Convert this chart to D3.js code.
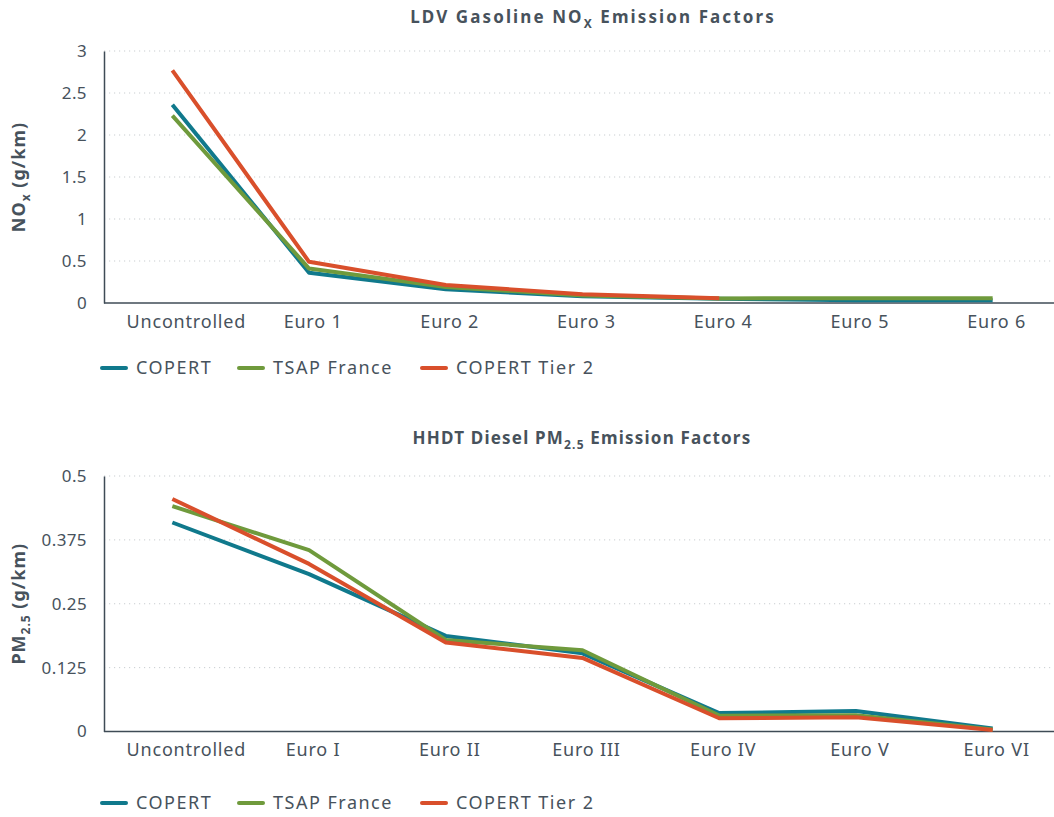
<!DOCTYPE html>
<html><head><meta charset="utf-8">
<script src="https://cdn.jsdelivr.net/npm/d3@7"></script>
<style>
html,body{margin:0;padding:0;background:#fff;}
svg{display:block;font-family:"Noto Sans",sans-serif;}
</style></head>
<body>
<svg id="chart" width="1054" height="817"></svg>
<script>
// ---- Data ----
const seriesNames = ["COPERT", "TSAP France", "COPERT Tier 2"];
const seriesColors = ["#10798c", "#6f9a3c", "#d94f2b"];

const noxCategories = ["Uncontrolled", "Euro 1", "Euro 2", "Euro 3", "Euro 4", "Euro 5", "Euro 6"];
const noxCopert = [2.36, 0.36, 0.165, 0.08, 0.05, 0.032, 0.032];
const noxTsap = [2.23, 0.41, 0.19, 0.09, 0.055, 0.056, 0.056];
const noxTier2 = [2.77, 0.49, 0.215, 0.105, 0.058, null, null];
const noxTicks = [0, 0.5, 1, 1.5, 2, 2.5, 3];
const noxTickLabels = ["0", "0.5", "1", "1.5", "2", "2.5", "3"];

const pmCategories = ["Uncontrolled", "Euro I", "Euro II", "Euro III", "Euro IV", "Euro V", "Euro VI"];
const pmCopert = [0.409, 0.308, 0.187, 0.153, 0.036, 0.040, 0.006];
const pmTsap = [0.441, 0.355, 0.179, 0.159, 0.031, 0.032, 0.004];
const pmTier2 = [0.455, 0.328, 0.174, 0.144, 0.026, 0.028, 0.003];
const pmTicks = [0, 0.125, 0.25, 0.375, 0.5];
const pmTickLabels = ["0", "0.125", "0.25", "0.375", "0.5"];

const svg = d3.select("#chart");
const textColor = "#47525c";
const axisColor = "#3f4b56";

function drawChart(cfg) {
  const g = svg.append("g");
  const x = d3.scaleBand().domain(cfg.categories).range([104, 1061]).padding(0);
  const y = d3.scaleLinear().domain([0, cfg.max]).range([cfg.bottom, cfg.top]);

  // gridlines
  g.append("g").selectAll("line").data(cfg.ticks.filter(t => t > 0)).join("line")
    .attr("x1", 104).attr("x2", 1054)
    .attr("y1", d => y(d)).attr("y2", d => y(d))
    .attr("stroke", "#c9cdd0").attr("stroke-width", 1).attr("stroke-dasharray", "1.2,3.8");

  // y axis
  const yAxis = d3.axisLeft(y).tickValues(cfg.ticks)
    .tickFormat((d, i) => cfg.tickLabels[i]).tickSize(0).tickPadding(17);
  const ya = g.append("g").attr("transform", "translate(104,0)").call(yAxis);
  ya.select(".domain").attr("stroke", axisColor).attr("stroke-width", 1.5);
  ya.selectAll("text").attr("fill", textColor).attr("font-size", 17)
    .attr("letter-spacing", 0.4).attr("font-family", "Noto Sans");

  // x axis
  const xAxis = d3.axisBottom(x).tickSize(0).tickPadding(12);
  const xa = g.append("g").attr("transform", `translate(0,${cfg.bottom})`).call(xAxis);
  xa.select(".domain").attr("stroke", axisColor).attr("stroke-width", 1.5)
    .attr("d", `M104,0H1054`);
  xa.selectAll("text").attr("fill", textColor).attr("font-size", 18)
    .attr("letter-spacing", 0.8).attr("font-family", "Noto Sans")
    .attr("dx", (d, i) => i === 0 ? 14 : 4);

  // lines
  const line = d3.line()
    .defined(d => d.v !== null)
    .x(d => x(d.c) + x.bandwidth() / 2)
    .y(d => y(d.v));
  cfg.series.forEach((vals, si) => {
    const data = cfg.categories.map((c, i) => ({c, v: vals[i]}));
    g.append("path").datum(data)
      .attr("fill", "none").attr("stroke", seriesColors[si])
      .attr("stroke-width", 4).attr("stroke-linejoin", "round")
      .attr("d", line);
  });

  // title
  const t = g.append("text").attr("x", cfg.titleX).attr("y", cfg.titleY)
    .attr("text-anchor", "middle").attr("font-weight", "bold")
    .attr("font-size", 17).attr("letter-spacing", cfg.titleSpacing).attr("fill", textColor);
  t.append("tspan").text(cfg.title[0]);
  t.append("tspan").text(cfg.title[1]).attr("font-size", 12).attr("dy", 5);
  t.append("tspan").text(cfg.title[2]).attr("dy", -5);

  // y label
  const yl = g.append("text")
    .attr("transform", `translate(25,${(cfg.top + cfg.bottom) / 2}) rotate(-90)`)
    .attr("text-anchor", "middle").attr("font-weight", "bold")
    .attr("font-size", 18).attr("letter-spacing", 1).attr("fill", textColor);
  yl.append("tspan").text(cfg.ylabel[0]);
  yl.append("tspan").text(cfg.ylabel[1]).attr("font-size", 12).attr("dy", 5);
  yl.append("tspan").text(cfg.ylabel[2]).attr("dy", -5);

  // legend
  const lg = g.append("g").attr("transform", `translate(0,${cfg.legendY})`);
  const lx = [102, 239, 422];
  seriesNames.forEach((n, i) => {
    lg.append("line").attr("x1", lx[i]).attr("x2", lx[i] + 24).attr("y1", 0).attr("y2", 0)
      .attr("stroke", seriesColors[i]).attr("stroke-width", 4).attr("stroke-linecap", "round");
    lg.append("text").attr("x", lx[i] + 34).attr("y", 0).attr("dy", "0.35em")
      .attr("font-size", 18).attr("letter-spacing", 1.5).attr("fill", textColor).text(n);
  });
}

drawChart({
  categories: noxCategories, series: [noxCopert, noxTsap, noxTier2],
  max: 3, top: 51, bottom: 303, ticks: noxTicks, tickLabels: noxTickLabels,
  title: ["LDV Gasoline NO", "X", " Emission Factors"], titleY: 23, titleX: 593, titleSpacing: 2.1,
  ylabel: ["NO", "x", " (g/km)"], legendY: 368
});
drawChart({
  categories: pmCategories, series: [pmCopert, pmTsap, pmTier2],
  max: 0.5, top: 476, bottom: 731.5, ticks: pmTicks, tickLabels: pmTickLabels,
  title: ["HHDT Diesel PM", "2.5", " Emission Factors"], titleY: 444, titleX: 582, titleSpacing: 1.2,
  ylabel: ["PM", "2.5", " (g/km)"], legendY: 803
});
</script>
</body></html>
